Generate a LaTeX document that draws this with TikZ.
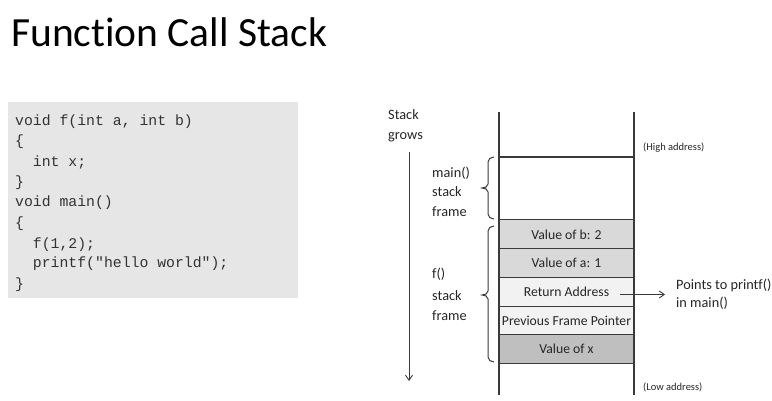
\documentclass[tikz,border=0pt]{standalone}
\usepackage{fontspec}
\setmainfont{Carlito}[Ligatures=CommonOff]
\newfontfamily\codefont{Liberation Mono}
\usetikzlibrary{arrows.meta}
\definecolor{codebg}{HTML}{E6E6E6}
\definecolor{codefg}{HTML}{333333}
\definecolor{linec}{HTML}{3A3A3A}
\definecolor{cellA}{HTML}{D9D9D9}
\definecolor{cellB}{HTML}{F2F2F2}
\definecolor{cellC}{HTML}{BFBFBF}
\tikzset{
  codeline/.style={anchor=base west, inner sep=0pt, text=codefg, font=\codefont\fontsize{14.8}{16}\selectfont},
  lbl/.style={anchor=base west, inner sep=0pt, text=black!85, font=\fontsize{14.3}{16}\selectfont},
  small/.style={anchor=base west, inner sep=0pt, text=black!85, font=\fontsize{10.5}{12}\selectfont},
  cell/.style={draw=linec, line width=1.1pt, minimum width=135pt, minimum height=28.7pt, inner sep=0pt, text=black!85, font=\fontsize{13.7}{15}\selectfont},
  rail/.style={draw=linec, line width=1.1pt},
  bracestyle/.style={draw=linec, line width=1pt},
  arr/.style={draw=linec, line width=0.9pt, -{Straight Barb[length=5pt,width=7pt]}}
}
\begin{document}
\begin{tikzpicture}[x=1pt,y=-1pt]
\useasboundingbox (0,0) rectangle (772,401);
% title
\node[anchor=base west, inner sep=0pt, font=\fontsize{41.5}{46}\selectfont] (title) at (11,47) {Function Call Stack};
% code box
\node[fill=codebg, minimum width=290pt, minimum height=196pt, anchor=north west, inner sep=0pt] (codebox) at (8,102) {};
\node[codeline] (c1) at (15,126) {void f(int a, int b)};
\node[codeline] (c2) at (15,146) {\{};
\node[codeline] (c3) at (15,166.5) {\ \ int x;};
\node[codeline] (c4) at (15,187) {\}};
\node[codeline] (c5) at (15,207) {void main()};
\node[codeline] (c6) at (15,227.5) {\{};
\node[codeline] (c7) at (15,248) {\ \ f(1,2);};
\node[codeline] (c8) at (15,268) {\ \ printf("hello world");};
\node[codeline] (c9) at (15,288.5) {\}};
% stack cells
\node[cell, fill=cellA] (vb) at (566.5,234.3) {Value of b: 2};
\node[cell, fill=cellA] (va) at (566.5,263) {Value of a: 1};
\node[cell, fill=cellB] (ra) at (566.5,291.7) {Return Address\hspace{22pt}};
\node[cell, fill=cellB] (pf) at (566.5,320.4) {Previous Frame Pointer};
\node[cell, fill=cellC] (vx) at (566.5,349.1) {Value of x};
% rails
\coordinate (l1) at (499,112);
\coordinate (l2) at (499,395);
\coordinate (r1) at (634,112);
\coordinate (r2) at (634,395);
\coordinate (m1) at (499,157);
\coordinate (m2) at (634,157);
\draw[rail] (l1) -- (l2);
\draw[rail] (r1) -- (r2);
\draw[rail] (m1) -- (m2);
% braces
\draw[bracestyle] (494,157) to[out=180,in=90] (488,162) -- (488,184) to[out=-90,in=0] (482,188) to[out=0,in=90] (488,192) -- (488,214) to[out=-90,in=180] (494,219);
\draw[bracestyle] (494,226) to[out=180,in=90] (488,231) -- (488,291) to[out=-90,in=0] (482,295) to[out=0,in=90] (488,299) -- (488,357) to[out=-90,in=180] (494,362);
% labels
\node[lbl] (mn1) at (432,178) {main()};
\node[lbl] (mn2) at (432,197) {stack};
\node[lbl] (mn3) at (432,217) {frame};
\node[lbl] (fn1) at (432,279) {f()};
\node[lbl] (fn2) at (432,300) {stack};
\node[lbl] (fn3) at (432,320) {frame};
\node[lbl] (sg1) at (388,120) {Stack};
\node[lbl] (sg2) at (388,140) {grows};
\node[small] (hi) at (643,151) {(High address)};
\node[small] (lo) at (643,390) {(Low address)};
\node[lbl] (pt1) at (676,289) {Points to printf()};
\node[lbl] (pt2) at (676,307) {in main()};
% arrows
\coordinate (g1) at (409,152);
\coordinate (g2) at (409,381);
\draw[arr] (g1) -- (g2);
\coordinate (ra1) at (620,294.5);
\coordinate (ra2) at (665,294.5);
\draw[arr] (ra1) -- (ra2);
\end{tikzpicture}
\end{document}
